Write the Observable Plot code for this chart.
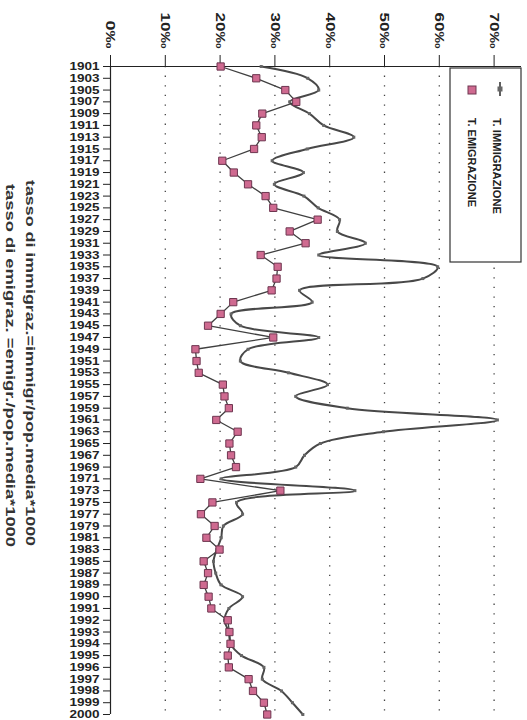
<!DOCTYPE html>
<html><head><meta charset="utf-8">
<script src="https://cdn.jsdelivr.net/npm/d3@7"></script>
<script src="https://cdn.jsdelivr.net/npm/@observablehq/plot@0.6"></script>
<style>body{margin:0;background:#fff} #chart{width:527px;height:720px;position:relative}</style>
</head><body><div id="chart"></div>
<script>
const years = ["1901","1903","1905","1907","1909","1911","1913","1915","1917","1919",
"1921","1923","1925","1927","1929","1931","1933","1935","1937","1939",
"1941","1943","1945","1947","1949","1951","1953","1955","1957","1959",
"1961","1963","1965","1967","1969","1971","1973","1975","1977","1979",
"1981","1983","1985","1987","1989","1990","1991","1992","1993","1994",
"1995","1996","1997","1998","1999","2000"];
const immigrazione = [27.5,36.0,38.0,32.7,36.3,38.9,44.4,35.9,29.5,35.2,
29.9,35.3,37.9,41.8,41.4,46.5,38.0,59.7,57.0,34.5,
36.8,22.0,23.7,38.0,25.1,23.7,32.5,39.6,33.8,43.2,
70.6,49.8,38.3,35.4,33.8,20.2,44.6,23.0,24.1,20.6,
20.2,19.4,18.8,19.2,20.2,24.1,21.6,20.8,21.6,21.9,
23.9,28.0,27.7,31.2,33.2,35.1];
const emigrazione = [20.1,26.6,31.9,33.9,27.7,26.6,27.6,26.2,20.4,22.5,
25.1,28.3,29.7,37.8,32.7,35.6,27.4,30.5,30.3,29.4,
22.4,20.1,17.8,29.7,15.5,15.7,16.1,20.5,20.8,21.6,
19.3,23.2,21.7,22.0,22.9,16.4,31.0,18.6,16.5,19.0,
17.5,19.9,17.0,17.8,17.0,17.9,18.4,21.4,21.7,21.9,
21.4,21.6,25.2,26.0,28.0,28.6];
const valueTicks = [0,10,20,30,40,50,60,70];
const gridTicks = [10,20,30,40,50,60,70];
const seriesNames = ["T. IMMIGRAZIONE","T. EMIGRAZIONE"];
const captionLines = ["tasso di immigraz.=immigr/pop.media*1000","tasso di emigraz. =emigr./pop.media*1000"];

const imm = years.map((y,i)=>({year:y, value:immigrazione[i]}));
const emi = years.map((y,i)=>({year:y, value:emigrazione[i]}));

const chart = Plot.plot({
  width: 527, height: 720,
  marginLeft: 110, marginRight: 6, marginTop: 66, marginBottom: 6,
  style: {fontFamily: "'Liberation Sans', Arial, sans-serif", fontWeight: "bold", fontSize: "11px", color: "#222", background: "#fff"},
  x: {domain: [0, 75], label: null},
  y: {type: "point", domain: years, padding: 0, label: null},
  marks: [
    Plot.gridX(gridTicks, {stroke: "#444", strokeOpacity: 1, strokeWidth: 1.3, strokeDasharray: "1.3,8.3"}),
    Plot.axisX({anchor: "top", ticks: valueTicks, tickFormat: d => d + "‰", tickRotate: 90, tickSize: 12, tickPadding: 6, fontSize: 13, fontWeight: "bold", label: null}),
    Plot.axisY({anchor: "left", tickSize: 7, tickPadding: 4, fontSize: 11, fontWeight: "bold", label: null}),
    Plot.ruleX([0], {stroke: "#222", strokeWidth: 1.2}),
    Plot.ruleY([years[0]], {stroke: "#222", strokeWidth: 1.2}),
    Plot.line(imm, {x: "value", y: "year", stroke: "#484848", strokeWidth: 2, curve: "catmull-rom"}),
    Plot.dot(imm, {x: "value", y: "year", symbol: "square", r: 1.7, fill: "#666", stroke: "none"}),
    Plot.line(emi, {x: "value", y: "year", stroke: "#404040", strokeWidth: 1.3}),
    Plot.dot(emi, {x: "value", y: "year", symbol: "square", r: 4.1, fill: "#cf6a90", stroke: "#6e3650", strokeWidth: 1})
  ]
});
document.getElementById("chart").appendChild(chart);

const svg = d3.select(chart);
svg.selectAll("g[aria-label='y-axis tick label'] text").attr("textLength", 30).attr("lengthAdjust", "spacingAndGlyphs");
svg.selectAll("g[aria-label='x-axis tick label'] text").each(function() {
  const t = d3.select(this);
  t.attr("textLength", t.text().length > 2 ? 36 : 28).attr("lengthAdjust", "spacingAndGlyphs");
});

// legend
const lg = svg.append("g").attr("font-family", "'Liberation Sans', Arial, sans-serif").attr("font-weight", "bold").attr("font-size", 11).attr("fill", "#222").attr("text-anchor", "start");
lg.append("rect").attr("x", 450).attr("y", 68).attr("width", 71).attr("height", 194).attr("fill", "#fff").attr("stroke", "#333").attr("stroke-width", 1.2);
lg.append("line").attr("x1", 500).attr("x2", 500).attr("y1", 82).attr("y2", 96).attr("stroke", "#4d4d4d").attr("stroke-width", 1.8);
lg.append("rect").attr("x", 497.5).attr("y", 86.5).attr("width", 5).attr("height", 5).attr("fill", "#666");
lg.append("rect").attr("x", 468).attr("y", 86).attr("width", 8).attr("height", 8).attr("fill", "#cf6a90").attr("stroke", "#6e3650");
lg.append("text").attr("transform", "translate(497,118) rotate(90)").attr("dy", "0.35em").attr("textLength", 96).attr("lengthAdjust", "spacingAndGlyphs").text(seriesNames[0]);
lg.append("text").attr("transform", "translate(472,118) rotate(90)").attr("dy", "0.35em").attr("textLength", 89).attr("lengthAdjust", "spacingAndGlyphs").text(seriesNames[1]);

// caption
const cg = svg.append("g").attr("font-family", "'Liberation Sans', Arial, sans-serif").attr("font-weight", "bold").attr("font-size", 13).attr("fill", "#333").attr("text-anchor", "start");
cg.append("text").attr("transform", "translate(31,180) rotate(90)").attr("dy", "0.35em").attr("textLength", 366).attr("lengthAdjust", "spacingAndGlyphs").text(captionLines[0]);
cg.append("text").attr("transform", "translate(11,184) rotate(90)").attr("dy", "0.35em").attr("textLength", 363).attr("lengthAdjust", "spacingAndGlyphs").text(captionLines[1]);
</script>
</body></html>
